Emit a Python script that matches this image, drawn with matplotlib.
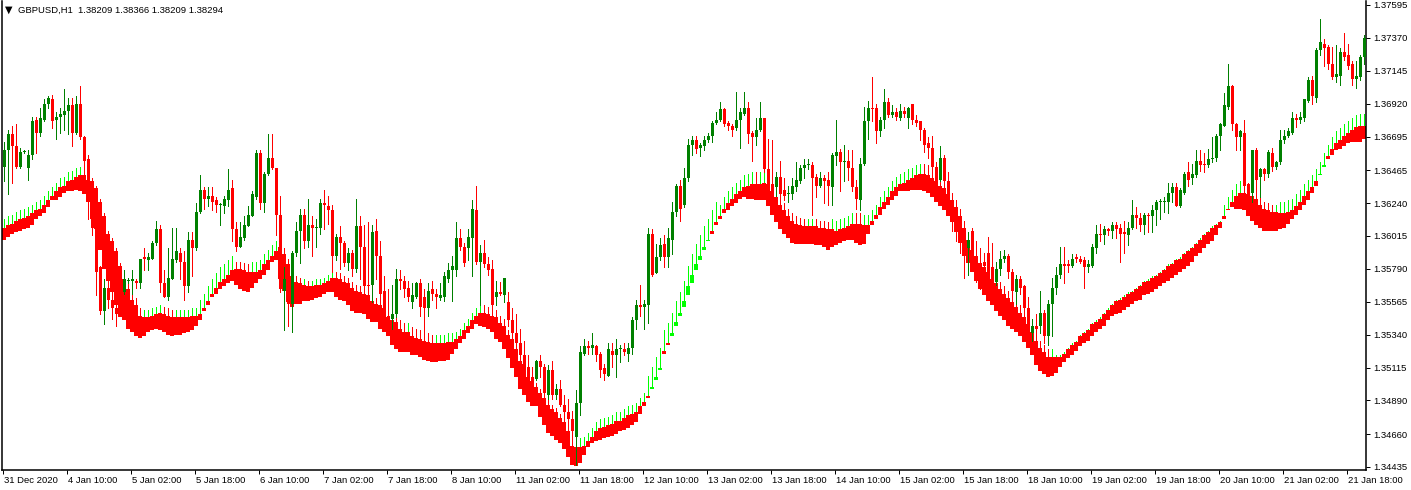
import numpy as np
import matplotlib
matplotlib.use("Agg")
import matplotlib.pyplot as plt
from matplotlib.transforms import ScaledTranslation

# GBPUSD H1 bars, in pips above 1.30000 (bar 0 = 31 Dec 2020, one bar per hour)
opens = [
    649, 660, 671, 663, 649, 659, 648, 657, 681, 672,
    681, 692, 695, 681, 683, 684, 687, 691, 672, 692,
    669, 654, 639, 607, 580, 550, 566, 558, 552, 560,
    563, 571, 571, 571, 569, 587, 585, 586, 597, 606,
    569, 560, 572, 585, 590, 584, 567, 599, 593, 618,
    633, 627, 629, 626, 623, 622, 626, 634, 606, 594,
    600, 608, 615, 628, 658, 624, 644, 655, 648, 616,
    564, 572, 555, 590, 605, 616, 598, 609, 607, 607,
    624, 622, 619, 588, 601, 597, 583, 590, 579, 608,
    594, 568, 568, 605, 588, 564, 547, 545, 548, 572,
    571, 566, 556, 560, 569, 560, 552, 565, 562, 559,
    560, 572, 578, 578, 600, 594, 593, 600, 619, 584,
    590, 582, 579, 560, 563, 561, 556, 544, 535, 528,
    520, 512, 505, 504, 516, 512, 493, 510, 493, 497,
    486, 481, 476, 464, 487, 521, 526, 525, 526, 521,
    511, 506, 523, 520, 524, 524, 521, 525, 544, 554,
    553, 554, 603, 576, 587, 596, 587, 599, 618, 636,
    623, 641, 664, 667, 662, 663, 667, 670, 679, 681,
    688, 679, 677, 675, 681, 685, 689, 672, 669, 674,
    682, 647, 637, 635, 642, 633, 630, 630, 635, 639,
    648, 650, 650, 642, 636, 641, 640, 635, 656, 659,
    652, 653, 648, 635, 626, 651, 680, 689, 689, 673,
    681, 693, 684, 686, 682, 687, 682, 692, 681, 680,
    674, 665, 662, 649, 640, 655, 639, 625, 612, 605,
    598, 593, 605, 588, 580, 584, 590, 580, 570, 579,
    586, 588, 577, 563, 572, 567, 552, 535, 540, 540,
    549, 533, 555, 566, 575, 582, 582, 581, 587, 586,
    585, 580, 581, 593, 603, 602, 606, 605, 609, 607,
    604, 602, 607, 616, 614, 609, 616, 615, 619, 625,
    625, 625, 631, 635, 622, 631, 645, 641, 643, 653,
    651, 650, 654, 655, 670, 677, 690, 704, 678, 669,
    672, 637, 631, 660, 642, 647, 644, 658, 649, 652,
    667, 670, 672, 682, 681, 682, 694, 708, 696, 729,
    733, 731, 719, 710, 711, 727, 725, 719, 709, 710,
    724,
]
highs = [
    666, 674, 677, 678, 662, 660, 660, 683, 683, 689,
    695, 697, 698, 686, 689, 702, 696, 696, 697, 704,
    670, 657, 640, 612, 581, 572, 575, 566, 560, 568,
    578, 573, 578, 572, 586, 593, 590, 598, 612, 609,
    578, 593, 607, 607, 593, 591, 604, 604, 624, 643,
    635, 635, 635, 628, 624, 629, 647, 640, 611, 611,
    615, 622, 632, 660, 660, 645, 671, 671, 648, 629,
    580, 577, 591, 611, 620, 620, 627, 615, 613, 627,
    633, 629, 623, 603, 608, 598, 593, 592, 627, 615,
    609, 611, 609, 613, 598, 574, 565, 568, 579, 578,
    574, 571, 569, 570, 572, 565, 569, 571, 565, 569,
    577, 583, 588, 611, 606, 597, 606, 626, 636, 595,
    599, 587, 585, 571, 570, 573, 563, 552, 548, 538,
    530, 520, 512, 517, 520, 514, 513, 516, 500, 503,
    493, 490, 482, 496, 526, 531, 530, 535, 527, 522,
    514, 528, 528, 531, 527, 528, 528, 546, 558, 568,
    558, 607, 606, 596, 600, 602, 607, 625, 637, 640,
    648, 668, 670, 670, 665, 670, 672, 680, 686, 693,
    689, 680, 678, 700, 689, 700, 693, 673, 682, 693,
    682, 668, 667, 645, 653, 641, 636, 641, 652, 650,
    654, 654, 652, 644, 645, 643, 645, 658, 681, 661,
    664, 660, 660, 640, 655, 690, 694, 710, 692, 683,
    702, 696, 691, 689, 692, 690, 690, 692, 684, 680,
    675, 669, 670, 652, 663, 657, 645, 630, 618, 610,
    603, 604, 607, 598, 593, 590, 601, 597, 584, 591,
    592, 589, 579, 575, 574, 568, 560, 545, 548, 564,
    551, 558, 573, 580, 594, 594, 585, 589, 589, 588,
    587, 585, 596, 609, 610, 608, 607, 611, 611, 610,
    612, 611, 626, 621, 617, 617, 617, 623, 626, 627,
    628, 638, 638, 638, 634, 645, 652, 651, 660, 660,
    658, 661, 669, 671, 679, 699, 719, 705, 679, 674,
    681, 638, 660, 662, 648, 648, 660, 662, 653, 674,
    674, 675, 686, 685, 686, 695, 710, 711, 730, 750,
    736, 732, 731, 732, 730, 740, 733, 721, 721, 725,
    739,
]
lows = [
    639, 630, 638, 648, 648, 658, 640, 654, 658, 670,
    680, 689, 675, 668, 672, 674, 671, 663, 671, 668,
    644, 613, 602, 561, 548, 541, 552, 545, 540, 548,
    562, 569, 562, 566, 566, 578, 578, 586, 595, 563,
    560, 558, 572, 584, 572, 558, 563, 574, 592, 617,
    620, 622, 619, 618, 609, 617, 622, 598, 591, 594,
    599, 608, 615, 627, 620, 618, 643, 647, 602, 563,
    537, 540, 536, 588, 583, 593, 594, 588, 594, 603,
    606, 610, 577, 585, 579, 581, 578, 574, 577, 572,
    566, 558, 556, 572, 556, 543, 538, 538, 546, 565,
    560, 557, 552, 559, 547, 527, 547, 558, 552, 558,
    557, 570, 557, 574, 592, 581, 585, 574, 582, 554,
    580, 575, 553, 554, 561, 556, 540, 530, 522, 515,
    505, 498, 495, 503, 505, 493, 490, 490, 490, 485,
    474, 468, 458, 445, 479, 520, 521, 521, 516, 505,
    503, 506, 512, 505, 515, 520, 516, 521, 538, 547,
    538, 542, 574, 576, 585, 580, 580, 589, 615, 612,
    621, 639, 657, 658, 656, 660, 666, 666, 678, 680,
    677, 674, 670, 674, 662, 684, 665, 653, 664, 673,
    645, 630, 625, 629, 628, 626, 625, 627, 632, 638,
    641, 647, 616, 628, 635, 624, 623, 623, 650, 632,
    639, 640, 632, 620, 619, 650, 668, 680, 665, 670,
    675, 683, 683, 681, 681, 683, 675, 678, 677, 667,
    659, 655, 645, 630, 639, 632, 618, 605, 598, 590,
    573, 575, 585, 570, 565, 574, 565, 565, 568, 575,
    584, 573, 560, 555, 562, 548, 535, 530, 528, 535,
    528, 527, 533, 562, 573, 569, 577, 580, 584, 583,
    566, 577, 580, 590, 598, 596, 602, 600, 600, 584,
    590, 595, 606, 607, 605, 603, 604, 604, 609, 613,
    618, 617, 625, 622, 621, 630, 636, 637, 642, 646,
    645, 649, 652, 653, 660, 677, 688, 674, 660, 660,
    630, 625, 625, 633, 628, 640, 642, 646, 647, 651,
    665, 669, 671, 676, 679, 680, 693, 692, 693, 725,
    718, 716, 709, 707, 705, 722, 716, 705, 703, 708,
    719,
]
closes = [
    660, 671, 663, 649, 659, 659, 657, 680, 672, 682,
    692, 696, 680, 683, 685, 687, 691, 672, 692, 669,
    653, 639, 607, 577, 550, 566, 558, 552, 548, 556,
    572, 571, 572, 569, 586, 586, 587, 597, 606, 569,
    560, 573, 586, 591, 584, 567, 599, 593, 618, 633,
    627, 629, 625, 623, 623, 627, 633, 606, 594, 601,
    609, 616, 630, 658, 624, 644, 655, 648, 616, 565,
    572, 555, 590, 605, 616, 598, 609, 607, 607, 624,
    623, 619, 588, 601, 597, 583, 590, 579, 608, 594,
    567, 567, 604, 588, 562, 547, 543, 548, 572, 571,
    565, 560, 561, 569, 553, 552, 564, 562, 560, 561,
    574, 578, 581, 600, 594, 583, 601, 620, 584, 590,
    582, 578, 554, 563, 562, 573, 544, 535, 528, 520,
    512, 505, 498, 516, 512, 494, 510, 493, 497, 486,
    481, 476, 468, 487, 522, 526, 525, 527, 520, 510,
    507, 524, 520, 524, 524, 522, 525, 544, 554, 553,
    555, 603, 575, 587, 595, 587, 600, 618, 636, 620,
    641, 664, 667, 661, 664, 667, 670, 679, 681, 688,
    678, 677, 674, 681, 686, 689, 671, 669, 674, 682,
    647, 637, 630, 642, 630, 629, 630, 636, 640, 648,
    650, 650, 641, 636, 641, 639, 636, 657, 659, 652,
    653, 648, 635, 627, 651, 680, 689, 688, 673, 681,
    693, 684, 686, 683, 687, 685, 689, 681, 679, 674,
    664, 662, 649, 635, 655, 639, 625, 612, 605, 598,
    590, 599, 588, 580, 575, 581, 570, 570, 579, 586,
    588, 577, 564, 572, 566, 552, 540, 540, 538, 549,
    533, 555, 566, 575, 582, 581, 581, 586, 586, 584,
    580, 582, 594, 603, 602, 606, 605, 609, 606, 603,
    603, 607, 616, 614, 609, 616, 615, 619, 625, 625,
    625, 631, 635, 622, 633, 644, 640, 644, 653, 650,
    650, 654, 655, 670, 678, 691, 704, 678, 669, 673,
    636, 630, 660, 640, 647, 644, 659, 649, 652, 667,
    670, 673, 682, 681, 683, 695, 708, 697, 729, 734,
    730, 719, 710, 712, 727, 724, 718, 709, 711, 724,
    737,
]

# smoothed Heiken Ashi band: body bottom, body top and upper wick (same units)
band_lo = [
    599, 601, 603, 604, 605, 606, 607, 609, 613, 615,
    617, 621, 626, 626, 628, 631, 632, 632, 633, 632,
    630, 625, 613, 606, 592, 579, 571, 563, 554, 546,
    544, 538, 536, 533, 532, 533, 536, 537, 538, 537,
    536, 534, 533, 534, 534, 535, 536, 537, 540, 544,
    550, 554, 560, 562, 565, 567, 569, 571, 568, 565,
    564, 563, 566, 569, 572, 575, 578, 584, 585, 572,
    564, 556, 553, 555, 555, 557, 557, 558, 559, 560,
    562, 563, 563, 560, 558, 557, 554, 550, 549, 549,
    548, 545, 543, 543, 538, 536, 533, 527, 524, 522,
    522, 522, 520, 520, 519, 517, 516, 515, 515, 516,
    516, 517, 521, 524, 528, 531, 535, 538, 541, 540,
    539, 538, 536, 531, 529, 524, 518, 511, 505, 497,
    493, 488, 485, 485, 478, 472, 467, 465, 462, 460,
    456, 450, 445, 444, 446, 452, 457, 460, 461, 462,
    463, 464, 465, 466, 468, 469, 470, 472, 474, 480,
    485, 491, 497, 503, 510, 521, 527, 533, 540, 547,
    553, 561, 569, 578, 585, 592, 598, 603, 609, 613,
    617, 619, 622, 624, 627, 628, 627, 627, 626, 626,
    626, 622, 616, 611, 606, 603, 600, 597, 596, 596,
    596, 596, 596, 595, 595, 594, 592, 594, 595, 597,
    598, 599, 599, 597, 595, 596, 603, 609, 613, 616,
    620, 623, 626, 629, 632, 632, 632, 633, 633, 633,
    632, 631, 628, 625, 622, 619, 615, 611, 604, 597,
    588, 583, 577, 571, 565, 561, 557, 554, 550, 547,
    544, 540, 538, 536, 533, 529, 525, 520, 513, 509,
    507, 505, 506, 508, 512, 515, 518, 520, 523, 526,
    528, 530, 533, 536, 538, 540, 544, 547, 548, 549,
    551, 553, 555, 557, 558, 561, 562, 563, 565, 567,
    569, 571, 573, 575, 577, 579, 581, 584, 588, 590,
    593, 596, 598, 602, 607, 613, 619, 621, 620, 620,
    619, 615, 612, 609, 607, 605, 605, 605, 605, 606,
    607, 610, 613, 616, 619, 623, 626, 631, 636, 643,
    649, 654, 657, 660, 661, 663, 665, 666, 666, 666,
    668,
]
band_hi = [
    607, 609, 610, 612, 613, 614, 615, 617, 619, 620,
    623, 626, 629, 632, 635, 636, 639, 640, 642, 643,
    643, 640, 639, 634, 625, 615, 603, 598, 591, 581,
    572, 565, 558, 554, 547, 546, 546, 547, 548, 549,
    548, 547, 546, 546, 546, 546, 546, 547, 547, 548,
    552, 557, 562, 566, 570, 572, 575, 578, 579, 579,
    578, 577, 577, 577, 578, 582, 585, 588, 591, 594,
    589, 582, 574, 570, 569, 568, 567, 567, 568, 568,
    569, 571, 573, 573, 572, 570, 569, 566, 564, 563,
    562, 561, 557, 555, 554, 552, 546, 544, 543, 538,
    536, 536, 533, 532, 531, 530, 529, 528, 528, 528,
    528, 529, 529, 531, 533, 537, 540, 544, 547, 549,
    549, 548, 547, 546, 542, 540, 534, 531, 524, 516,
    514, 505, 502, 498, 494, 491, 486, 483, 481, 477,
    474, 468, 458, 457, 457, 458, 461, 464, 468, 470,
    471, 472, 473, 475, 475, 477, 479, 480, 481, 485,
    488, 492, 498, 505, 511, 523, 528, 535, 543, 549,
    557, 567, 575, 582, 588, 594, 599, 605, 611, 615,
    620, 624, 627, 630, 632, 635, 636, 637, 637, 637,
    638, 637, 632, 628, 623, 619, 615, 612, 610, 609,
    608, 608, 608, 608, 607, 607, 606, 606, 605, 606,
    607, 608, 610, 610, 610, 609, 609, 612, 616, 621,
    625, 628, 632, 635, 637, 638, 640, 641, 643, 644,
    644, 643, 641, 639, 636, 634, 630, 626, 621, 615,
    607, 599, 592, 588, 583, 580, 577, 572, 569, 565,
    562, 559, 556, 553, 549, 546, 541, 536, 530, 525,
    522, 519, 519, 519, 519, 521, 524, 527, 529, 533,
    535, 537, 541, 543, 545, 548, 551, 554, 557, 558,
    560, 562, 563, 565, 567, 570, 571, 573, 574, 576,
    578, 581, 582, 585, 586, 589, 591, 593, 596, 599,
    602, 604, 607, 609, 611, 615, 620, 625, 629, 631,
    631, 630, 629, 627, 623, 620, 619, 618, 618, 617,
    617, 618, 619, 622, 625, 629, 632, 635, 639, 644,
    650, 656, 661, 665, 667, 670, 672, 674, 676, 677,
    677,
]
band_wick = [
    613, 615, 616, 618, 619, 620, 621, 623, 625, 626,
    629, 632, 635, 638, 641, 642, 645, 646, 648, 649,
    649, 642, 641, 636, 627, 617, 605, 600, 593, 583,
    577, 570, 563, 559, 552, 551, 551, 552, 553, 554,
    553, 552, 551, 551, 551, 551, 551, 552, 552, 558,
    562, 567, 572, 576, 580, 582, 585, 588, 584, 584,
    583, 582, 584, 584, 585, 589, 592, 595, 598, 598,
    593, 586, 578, 574, 573, 572, 571, 571, 572, 572,
    573, 575, 577, 577, 576, 574, 573, 570, 568, 567,
    566, 565, 561, 559, 558, 556, 552, 550, 549, 544,
    542, 542, 539, 538, 537, 536, 535, 534, 534, 534,
    534, 535, 535, 536, 538, 542, 545, 549, 552, 554,
    554, 553, 552, 551, 547, 545, 537, 534, 527, 519,
    517, 508, 505, 501, 497, 494, 489, 486, 484, 480,
    477, 471, 461, 463, 463, 464, 467, 470, 474, 476,
    477, 478, 479, 481, 481, 483, 485, 486, 487, 491,
    494, 506, 512, 519, 525, 537, 542, 549, 557, 563,
    571, 581, 589, 596, 602, 608, 613, 619, 625, 623,
    628, 632, 635, 638, 640, 643, 644, 645, 645, 645,
    646, 642, 637, 633, 628, 624, 620, 617, 615, 614,
    613, 613, 613, 613, 612, 612, 611, 613, 612, 613,
    614, 615, 617, 617, 617, 616, 616, 619, 623, 628,
    632, 635, 639, 642, 644, 645, 647, 648, 650, 651,
    651, 650, 646, 644, 641, 639, 635, 631, 626, 620,
    612, 604, 597, 593, 588, 585, 582, 577, 574, 570,
    567, 564, 561, 558, 554, 551, 546, 541, 535, 530,
    527, 524, 524, 520, 520, 522, 525, 528, 530, 534,
    536, 538, 542, 544, 546, 549, 552, 555, 558, 559,
    561, 563, 564, 566, 568, 571, 572, 574, 575, 577,
    579, 582, 583, 586, 587, 590, 592, 594, 597, 600,
    603, 605, 608, 610, 612, 623, 628, 633, 637, 639,
    636, 635, 634, 632, 628, 625, 624, 623, 623, 625,
    625, 626, 627, 630, 633, 637, 640, 643, 647, 652,
    658, 664, 669, 673, 675, 678, 680, 682, 684, 685,
    685,
]
# bars where the band body is drawn in lime instead of red
band_up = [162, 163, 164, 167, 168, 169, 170, 171, 172, 173, 174, 175, 176,
           329, 330]

time_labels = [
    "31 Dec 2020", "4 Jan 10:00", "5 Jan 02:00", "5 Jan 18:00", "6 Jan 10:00",
    "7 Jan 02:00", "7 Jan 18:00", "8 Jan 10:00", "11 Jan 02:00", "11 Jan 18:00",
    "12 Jan 10:00", "13 Jan 02:00", "13 Jan 18:00", "14 Jan 10:00", "15 Jan 02:00",
    "15 Jan 18:00", "18 Jan 10:00", "19 Jan 02:00", "19 Jan 18:00", "20 Jan 10:00",
    "21 Jan 02:00", "21 Jan 18:00",
]
price_ticks = [1.37595, 1.37370, 1.37145, 1.36920, 1.36695, 1.36465, 1.36240,
               1.36015, 1.35790, 1.35565, 1.35340, 1.35115, 1.34890, 1.34660,
               1.34435]
header = "GBPUSD,H1  1.38209 1.38366 1.38209 1.38294"

BASE = 1.3
RED = "#ff0000"
GREEN = "#008000"
LIME = "#00ff00"
PX = 0.72  # one pixel, in points

plt.rcParams["font.family"] = ["Liberation Sans", "DejaVu Sans"]


def to_price(v):
    return BASE + np.asarray(v, dtype=float) / 1e4


o, h, l, c = (to_price(v) for v in (opens, highs, lows, closes))
blo, bhi, bwk = (to_price(v) for v in (band_lo, band_hi, band_wick))
x = np.arange(len(closes))

W, H = 1411, 490
fig = plt.figure(figsize=(W / 100, H / 100), dpi=100)
ax = fig.add_axes([2 / W, 20 / H, 1364 / W, 469 / H])

# band: thin wicks, then 4px bodies
mid = (blo + bhi) / 2
rising = np.r_[True, np.diff(mid) >= 0]
ax.vlines(x, bhi, bwk, colors=np.where(rising, LIME, RED), lw=PX,
          antialiased=False, zorder=1)
band_col = [LIME if i in band_up else RED for i in x]
ax.bar(x, bhi - blo, bottom=blo, width=1.0, color=band_col, linewidth=0,
       antialiased=False, zorder=2)

# candles on top
col = np.where(c >= o, GREEN, RED)
ax.vlines(x, l, h, colors=col, lw=PX, antialiased=False, zorder=3)
body = np.maximum(np.abs(c - o), 0.00007)
ax.bar(x, body, bottom=np.minimum(o, c), width=0.75, color=col, linewidth=0,
       antialiased=False, zorder=4)

ax.set_xlim(-0.5, len(x) - 0.5)
ax.set_ylim(1.344144, 1.37622)

ax.yaxis.tick_right()
ax.set_yticks(price_ticks)
ax.set_yticklabels([f"{p:.5f}" for p in price_ticks])
ax.tick_params(axis="y", direction="out", length=3, width=PX, pad=2,
               labelsize=6.8)

ax.set_xticks(x[::16] - 0.25)
ax.set_xticklabels(time_labels, ha="left")
ax.tick_params(axis="x", direction="out", length=3, width=PX, pad=1.5,
               labelsize=6.8)
shift = ScaledTranslation(1 / 100, 0, fig.dpi_scale_trans)
for lab in ax.get_xticklabels():
    lab.set_transform(lab.get_transform() + shift)

ax.spines["top"].set_visible(False)
for s in ("left", "right", "bottom"):
    ax.spines[s].set_linewidth(1.1)

fig.text(5 / W, 1 - 10 / H, "\u25bc", fontsize=7, va="center", ha="left",
         family=["DejaVu Sans"])
fig.text(18 / W, 1 - 10 / H, header, fontsize=6.8, va="center", ha="left")

fig.savefig("out.png", dpi=100)
